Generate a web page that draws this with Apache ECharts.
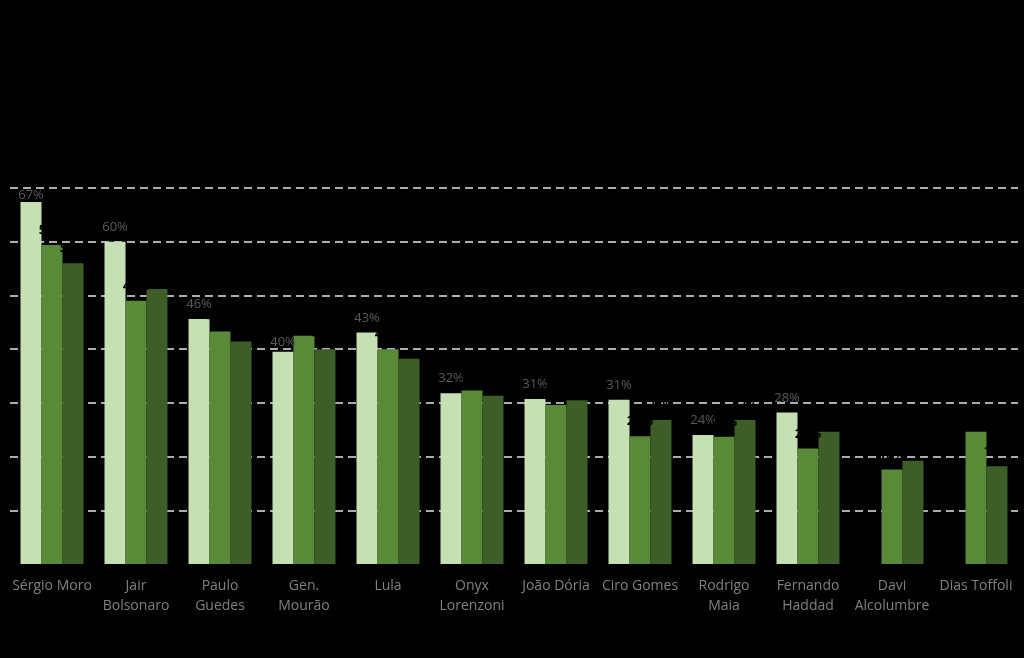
<!DOCTYPE html>
<html>
<head>
<meta charset="utf-8">
<script src="https://cdn.jsdelivr.net/npm/echarts@6/dist/echarts.min.js"></script>
<style>
html,body{margin:0;padding:0;background:#000;}
#c{width:1024px;height:658px;}
</style>
</head>
<body>
<div id="c"></div>
<script>
var categories = ['Sérgio Moro','Jair\nBolsonaro','Paulo\nGuedes','Gen.\nMourão','Lula','Onyx\nLorenzoni','João Dória','Ciro Gomes','Rodrigo\nMaia','Fernando\nHaddad','Davi\nAlcolumbre','Dias Toffoli'];
var series1 = [67.4, 60, 45.6, 39.5, 43.1, 31.8, 30.7, 30.6, 24, 28.2, null, null];
var series2 = [59.4, 49, 43.3, 42.5, 40, 32.3, 29.6, 23.8, 23.7, 21.5, 17.6, 24.6];
var series3 = [56, 51.2, 41.4, 40, 38.2, 31.3, 30.5, 26.8, 26.8, 24.6, 19.2, 18.2];
var yTicks = [0, 10, 20, 30, 40, 50, 60, 70];

var chart = echarts.init(document.getElementById('c'));
function pct(p){ return Math.round(p.value) + '%'; }
var font = '"Open Sans", sans-serif';
var gridColor = '#e6e6e6';
// label of the tallest bar sits closer to its bar (pushed down by the plot top)
var s1Data = series1.map(function (v, i) {
  if (i === 0) return {value: v, label: {distance: 0}};
  if (i === 3) return {value: v, label: {distance: 3}};
  return v;
});
chart.setOption({
  backgroundColor: '#000',
  animation: false,
  grid: {left: 10, right: 6, top: 188, bottom: 94, containLabel: false},
  xAxis: {
    type: 'category',
    data: categories,
    axisLine: {show: false},
    axisTick: {show: false},
    axisLabel: {color: '#808080', fontSize: 14, fontFamily: font, margin: 12, lineHeight: 20, interval: 0}
  },
  yAxis: {
    type: 'value',
    min: yTicks[0],
    max: yTicks[yTicks.length - 1],
    interval: 10,
    axisLabel: {show: false},
    axisLine: {show: false},
    axisTick: {show: false},
    splitLine: {show: true, lineStyle: {color: ['rgba(0,0,0,0)', gridColor, gridColor, gridColor, gridColor, gridColor, gridColor, gridColor], type: [8, 5], width: 1.5}}
  },
  series: [
    {name: 'Série 1', type: 'bar', data: s1Data, barGap: '0%', barCategoryGap: '25%',
     itemStyle: {color: '#c5e0b3'},
     label: {show: true, position: 'top', distance: 8, color: '#595959', fontSize: 13, fontFamily: font, textBorderWidth: 0, formatter: pct}},
    {name: 'Série 2', type: 'bar', data: series2, barGap: '0%', barCategoryGap: '25%',
     itemStyle: {color: '#588a38'},
     label: {show: true, position: 'top', distance: 8, color: '#000', fontSize: 13, fontWeight: 'bold', fontFamily: font, textBorderWidth: 0, formatter: pct}},
    {name: 'Série 3', type: 'bar', data: series3, barGap: '0%', barCategoryGap: '25%',
     itemStyle: {color: '#3d5e27'},
     label: {show: true, position: 'top', distance: 8, color: '#000', fontSize: 13, fontWeight: 'bold', fontFamily: font, textBorderWidth: 0, formatter: pct}}
  ]
});
</script>
</body>
</html>
